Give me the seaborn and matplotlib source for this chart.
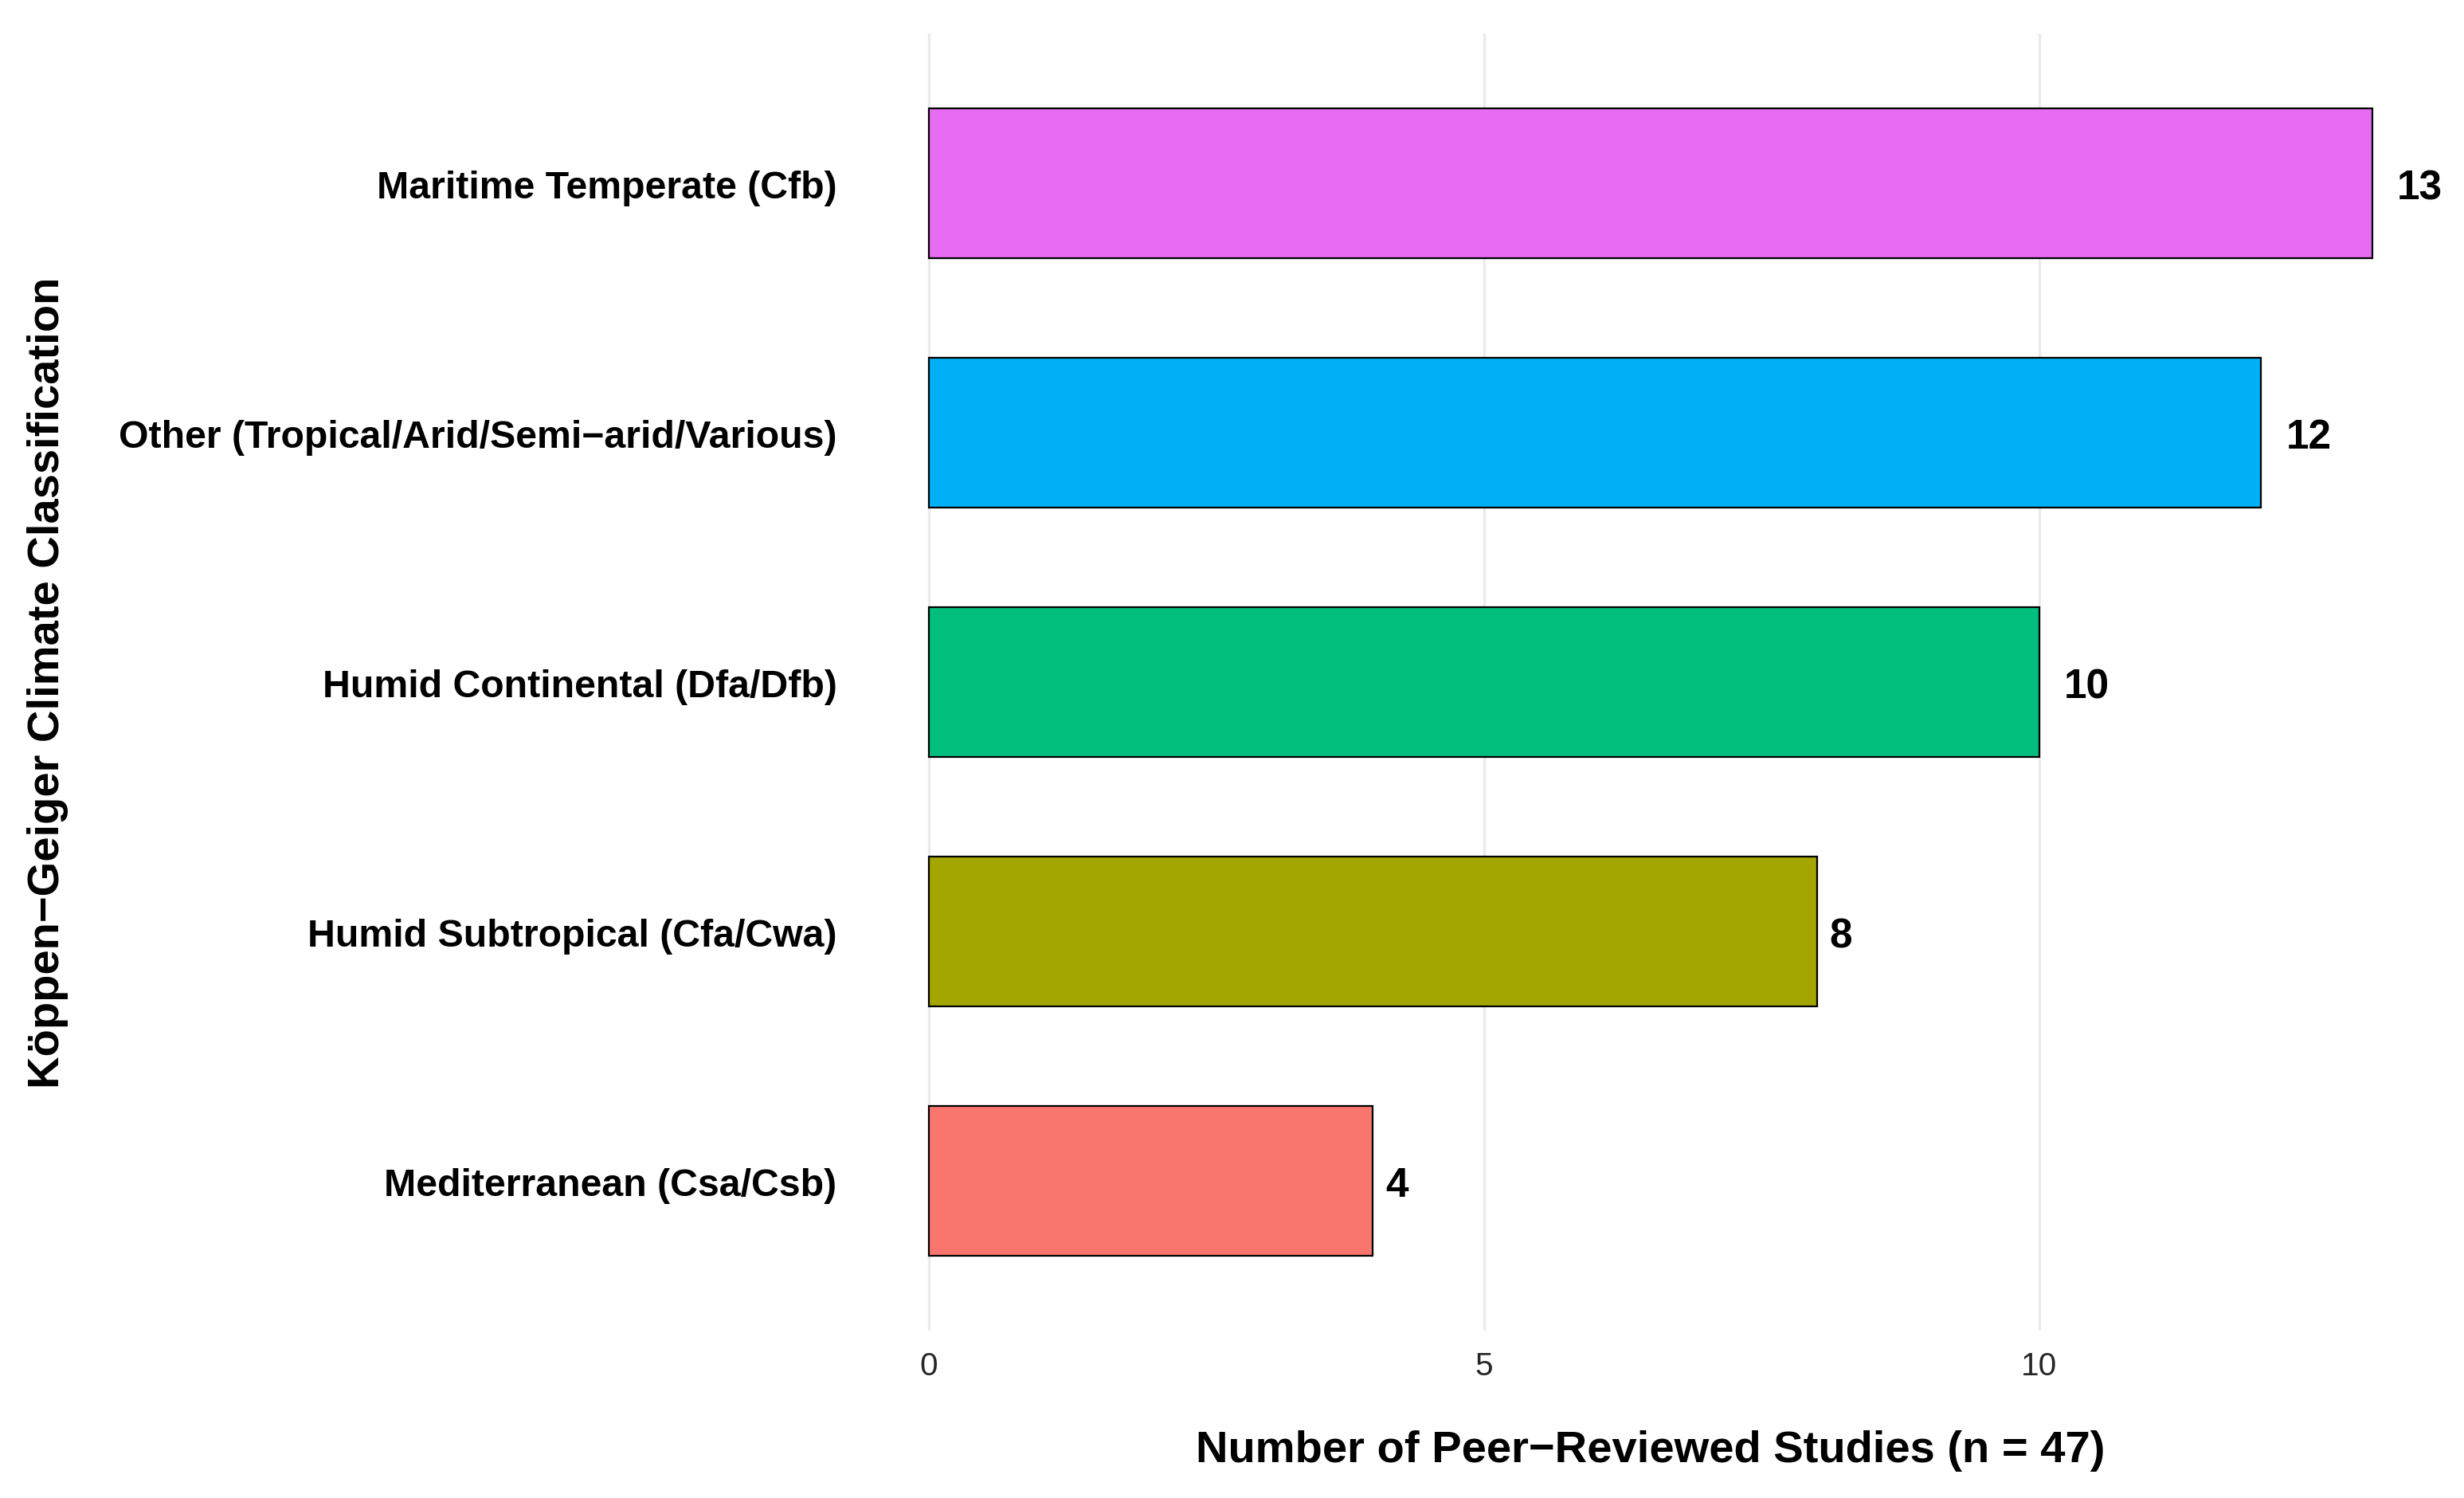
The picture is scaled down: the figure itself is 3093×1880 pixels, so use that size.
import seaborn as sns
import matplotlib
matplotlib.use("Agg")
import matplotlib.pyplot as plt
import pandas as pd

# data
climates = [
    "Maritime Temperate (Cfb)",
    "Other (Tropical/Arid/Semi\u2212arid/Various)",
    "Humid Continental (Dfa/Dfb)",
    "Humid Subtropical (Cfa/Cwa)",
    "Mediterranean (Csa/Csb)",
]
n_studies = [13, 12, 10, 8, 4]
bar_colors = ["#E76BF3", "#00B0F6", "#00BF7D", "#A3A500", "#F8766D"]
x_ticks = [0, 5, 10]

df = pd.DataFrame({"climate": climates, "n": n_studies})

sns.set_style("white")
plt.rcParams["font.family"] = ["Liberation Sans", "DejaVu Sans"]
plt.rcParams["text.color"] = "black"
plt.rcParams["axes.labelcolor"] = "black"

fig = plt.figure(figsize=(15.465, 9.405), dpi=200)
ax = fig.add_axes([0.3477, 0.1116, 0.992 - 0.3477, 0.977 - 0.1116])

sns.barplot(data=df, x="n", y="climate", hue="climate", order=climates,
            hue_order=climates, palette=bar_colors, saturation=1, width=0.6,
            edgecolor="black", linewidth=0.8, legend=False, ax=ax)

# gap after the bar grows with label width (like hjust in ggplot)
lab_size = 18.5
for cont, val in zip(ax.containers, n_studies):
    txt_w = len(str(val)) * 0.556 * lab_size
    texts = ax.bar_label(cont, padding=0.55 * txt_w, fontsize=lab_size,
                         fontweight="bold", color="black")
    for t in texts:
        t.set_va("center_baseline")

ax.set_xlim(-0.65, 13.65)
ax.set_ylim(4.6, -0.6)
ax.set_xticks(x_ticks)
ax.set_xticklabels([str(t) for t in x_ticks])
ax.grid(axis="x", color="#EBEBEB", linewidth=1.2)
ax.grid(axis="y", visible=False)
ax.set_axisbelow(True)
for s in ax.spines.values():
    s.set_visible(False)

ax.tick_params(axis="x", length=0, pad=9, labelsize=14.6, labelcolor="#262626")
ax.tick_params(axis="y", length=0, pad=9, labelsize=17.4, labelcolor="black")
for lab in ax.get_yticklabels():
    lab.set_fontweight("bold")

ax.set_xlabel("Number of Peer\u2212Reviewed Studies (n = 47)", fontsize=20.2,
              fontweight="bold", labelpad=22)
ax.set_ylabel("K\u00f6ppen\u2212Geiger Climate Classification", fontsize=20.2,
              fontweight="bold")
ax.yaxis.set_label_coords(-0.4965, 0.5)

fig.savefig("out.png", dpi=200, facecolor="white")
